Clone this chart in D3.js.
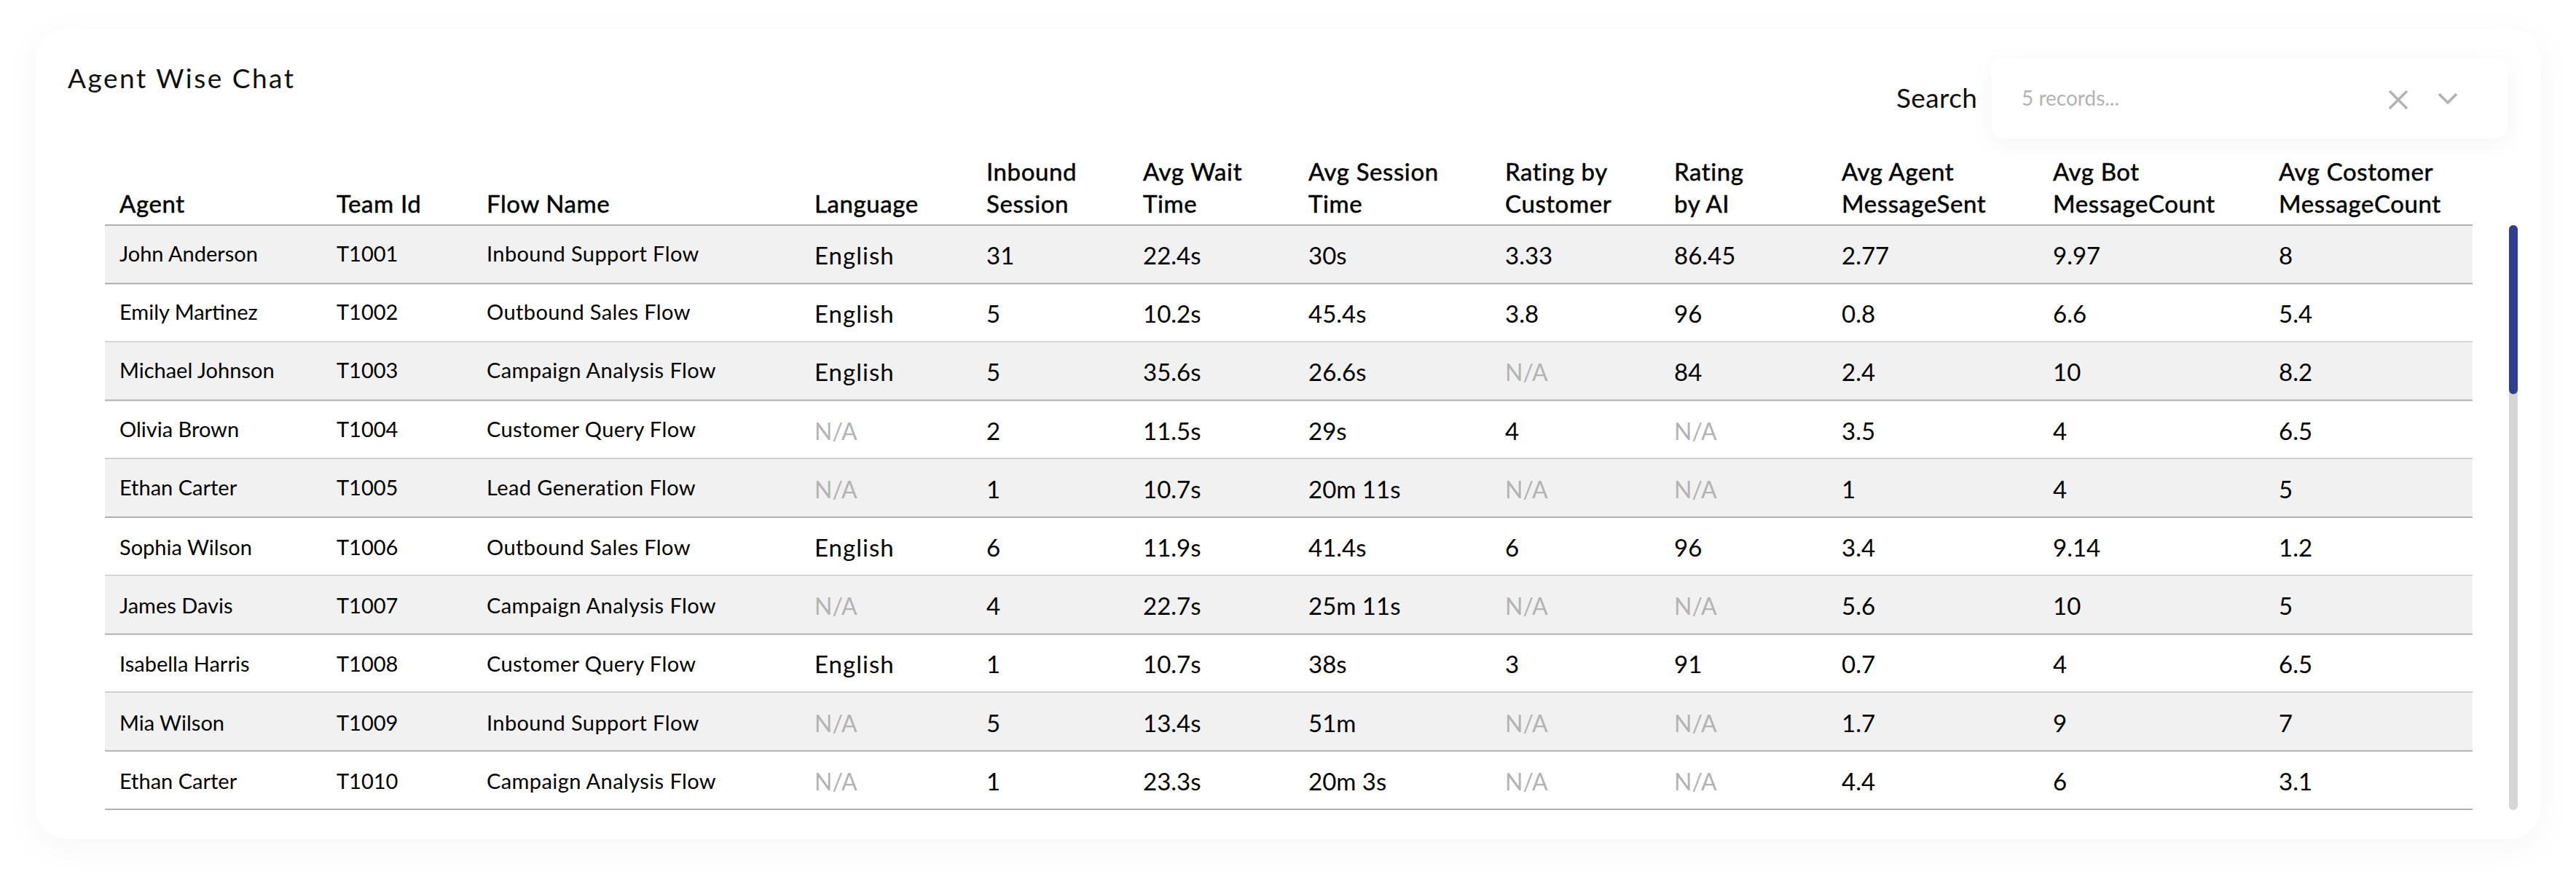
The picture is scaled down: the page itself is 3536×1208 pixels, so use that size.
<!DOCTYPE html>
<html>
<head>
<meta charset="utf-8">
<script src="https://cdn.jsdelivr.net/npm/d3@7.9.0/dist/d3.min.js"></script>
<style>
  html, body { margin: 0; padding: 0; background: #fff; }
  svg { display: block; font-family: Lato, sans-serif; }
  .card { fill: #fff; filter: drop-shadow(0 10px 22px rgba(0,0,0,.035)); }
  .search-box { fill: #fff; filter: drop-shadow(0 6px 14px rgba(0,0,0,.045)); }
</style>
</head>
<body>
<svg id="chart" width="3536" height="1208"></svg>
<script>
const headers = [
  ['Agent'], ['Team Id'], ['Flow Name'], ['Language'], ['Inbound', 'Session'],
  ['Avg Wait', 'Time'], ['Avg Session', 'Time'], ['Rating by', 'Customer'],
  ['Rating', 'by AI'], ['Avg Agent', 'MessageSent'], ['Avg Bot', 'MessageCount'],
  ['Avg Costomer', 'MessageCount']
];
const agents = ['John Anderson', 'Emily Martinez', 'Michael Johnson', 'Olivia Brown', 'Ethan Carter', 'Sophia Wilson', 'James Davis', 'Isabella Harris', 'Mia Wilson', 'Ethan Carter'];
const teamIds = ['T1001', 'T1002', 'T1003', 'T1004', 'T1005', 'T1006', 'T1007', 'T1008', 'T1009', 'T1010'];
const flowNames = ['Inbound Support Flow', 'Outbound Sales Flow', 'Campaign Analysis Flow', 'Customer Query Flow', 'Lead Generation Flow', 'Outbound Sales Flow', 'Campaign Analysis Flow', 'Customer Query Flow', 'Inbound Support Flow', 'Campaign Analysis Flow'];
const languages = ['English', 'English', 'English', 'N/A', 'N/A', 'English', 'N/A', 'English', 'N/A', 'N/A'];
const inboundSessions = ['31', '5', '5', '2', '1', '6', '4', '1', '5', '1'];
const avgWaitTimes = ['22.4s', '10.2s', '35.6s', '11.5s', '10.7s', '11.9s', '22.7s', '10.7s', '13.4s', '23.3s'];
const avgSessionTimes = ['30s', '45.4s', '26.6s', '29s', '20m 11s', '41.4s', '25m 11s', '38s', '51m', '20m 3s'];
const ratingsByCustomer = ['3.33', '3.8', 'N/A', '4', 'N/A', '6', 'N/A', '3', 'N/A', 'N/A'];
const ratingsByAI = ['86.45', '96', '84', 'N/A', 'N/A', '96', 'N/A', '91', 'N/A', 'N/A'];
const avgAgentMessages = ['2.77', '0.8', '2.4', '3.5', '1', '3.4', '5.6', '0.7', '1.7', '4.4'];
const avgBotMessages = ['9.97', '6.6', '10', '4', '4', '9.14', '10', '4', '9', '6'];
const avgCustomerMessages = ['8', '5.4', '8.2', '6.5', '5', '1.2', '5', '6.5', '7', '3.1'];

const columns = [agents, teamIds, flowNames, languages, inboundSessions, avgWaitTimes, avgSessionTimes, ratingsByCustomer, ratingsByAI, avgAgentMessages, avgBotMessages, avgCustomerMessages];
const colX = [164, 462, 668, 1118, 1354, 1569, 1796, 2066, 2298, 2528, 2818, 3128];

const svg = d3.select('#chart');
const x = d3.scaleOrdinal().domain(d3.range(columns.length)).range(colX);
const y = d3.scaleBand().domain(d3.range(agents.length)).range([309, 1111]);

svg.append('rect').attr('class', 'card')
  .attr('x', 49).attr('y', 40).attr('width', 3439).attr('height', 1112).attr('rx', 44);

svg.append('text').attr('x', 93).attr('y', 121)
  .attr('font-size', 37).attr('letter-spacing', 2.5).attr('fill', '#111')
  .text('Agent Wise Chat');

// search box
svg.append('text').attr('x', 2603).attr('y', 148).attr('font-size', 37).attr('letter-spacing', 0.4).attr('fill', '#111').text('Search');
svg.append('rect').attr('class', 'search-box')
  .attr('x', 2733).attr('y', 80).attr('width', 710).attr('height', 110).attr('rx', 18);
svg.append('text').attr('x', 2775).attr('y', 145).attr('font-size', 28).attr('fill', '#b3b3b3').text('5 records...');
svg.append('path').attr('d', 'M3280 125L3304 149M3304 125L3280 149')
  .attr('stroke', '#b3b3b3').attr('stroke-width', 3.5).attr('fill', 'none');
svg.append('path').attr('d', 'M3348 129L3360 141L3372 129')
  .attr('stroke', '#b3b3b3').attr('stroke-width', 3.5).attr('fill', 'none');

// header
const head = svg.append('g').selectAll('text').data(headers).join('text')
  .attr('font-size', 33).attr('letter-spacing', 0.6)
  .attr('fill', '#000').attr('stroke', '#000').attr('stroke-width', 0.5);
head.selectAll('tspan').data((d, i) => d.map((t, j) => ({ t, i, j, n: d.length }))).join('tspan')
  .attr('x', d => x(d.i))
  .attr('y', d => 292 - (d.n - 1 - d.j) * 44)
  .text(d => d.t);

// rows
const rows = svg.append('g').selectAll('g').data(agents.map((_, i) => i)).join('g')
  .attr('transform', i => `translate(0,${y(i)})`);
rows.filter(i => i % 2 === 0).append('rect')
  .attr('x', 144).attr('width', 3250).attr('height', y.bandwidth()).attr('fill', '#f1f1f1');
rows.append('line').attr('x1', 144).attr('x2', 3394)
  .attr('y1', y.bandwidth()).attr('y2', y.bandwidth())
  .attr('stroke', '#b0b0b0').attr('stroke-width', 2);
rows.selectAll('text')
  .data(i => columns.map((col, c) => ({ c, v: col[i], i })))
  .join('text')
  .attr('x', d => x(d.c))
  .attr('y', d => d.c < 3 ? (d.i < 5 ? 50 : 52) : 54)
  .attr('font-size', d => d.c < 3 ? 29 : (d.v === 'N/A' ? 32 : 33))
  .attr('letter-spacing', d => d.c === 2 ? 0.4 : (d.v === 'English' ? 1 : 0))
  .attr('fill', d => d.v === 'N/A' ? '#b3b3b3' : '#000')
  .text(d => d.v);

svg.append('line').attr('x1', 144).attr('x2', 3394).attr('y1', y(0)).attr('y2', y(0))
  .attr('stroke', '#b0b0b0').attr('stroke-width', 2);

// scrollbar
svg.append('rect').attr('x', 3444).attr('y', 309).attr('width', 12).attr('height', 803).attr('rx', 6).attr('fill', '#d6d6d6');
svg.append('rect').attr('x', 3444).attr('y', 309).attr('width', 12).attr('height', 232).attr('rx', 6).attr('fill', '#2f3e8f');
</script>
</body>
</html>
